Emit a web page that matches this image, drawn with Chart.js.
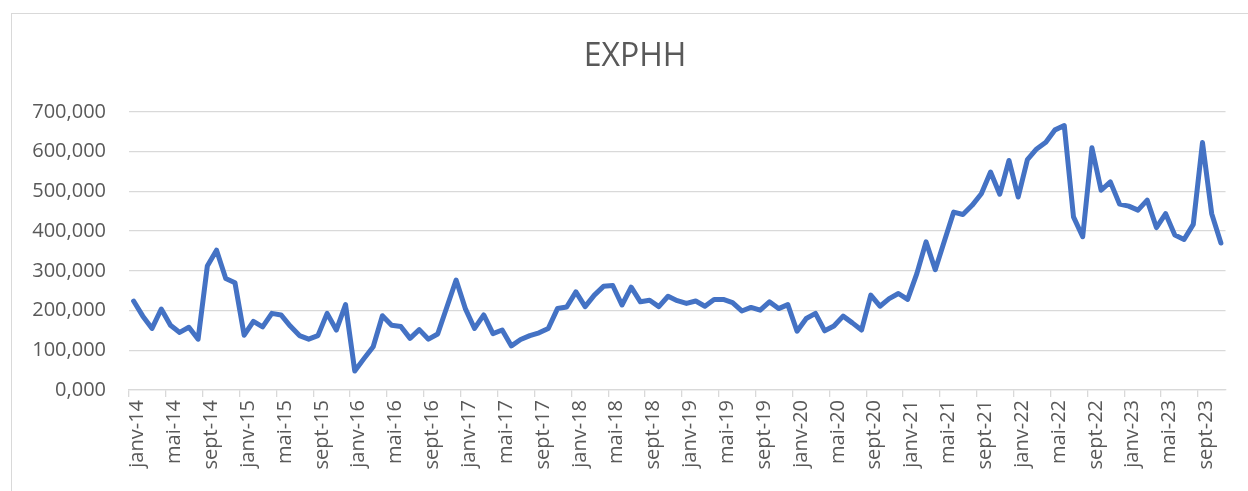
<!DOCTYPE html>
<html>
<head>
<meta charset="utf-8">
<script src="https://cdn.jsdelivr.net/npm/chart.js@4.4.1/dist/chart.umd.min.js"></script>
<style>
  html, body { margin: 0; padding: 0; background: #ffffff; }
  #wrap { position: relative; width: 1248px; height: 491px; overflow: hidden; }
  #frame { position: absolute; left: 11px; top: 13px; width: 1400px; height: 700px; border-left: 1px solid #d9d9d9; border-top: 1px solid #d9d9d9; }
  canvas { position: absolute; left: 0; top: 0; }
</style>
</head>
<body>
<div id="wrap">
  <div id="frame"></div>
  <canvas id="c" width="1248" height="491"></canvas>
</div>
<script>
// Month names (French abbreviations) and years used to build the category labels
const monthNames = ['janv', 'févr', 'mars', 'avr', 'mai', 'juin', 'juil', 'août', 'sept', 'oct', 'nov', 'déc'];
const years = ['14', '15', '16', '17', '18', '19', '20', '21', '22', '23'];
const lastMonthCount = 119; // janv-14 .. nov-23

const categories = [];
for (const y of years) {
  for (const m of monthNames) {
    if (categories.length < lastMonthCount) categories.push(m + '-' + y);
  }
}

// EXPHH monthly values
const values = [
  224, 186, 155, 204, 163, 145, 158, 128, 312, 352, 281, 270,
  138, 173, 159, 193, 189, 161, 137, 128, 137, 193, 151, 215,
  48, 79, 109, 187, 163, 160, 130, 152, 128, 141, 209, 277,
  205, 155, 189, 142, 151, 111, 127, 137, 144, 155, 205, 209,
  247, 210, 239, 261, 263, 214, 259, 222, 226, 210, 236, 225,
  218, 224, 211, 228, 228, 220, 199, 208, 201, 222, 205, 215,
  148, 180, 193, 149, 161, 186, 169, 151, 239, 211, 230, 243,
  228, 293, 373, 303, 376, 448, 442, 465, 494, 549, 493, 578,
  486, 580, 607, 624, 655, 666, 436, 386, 610, 503, 524, 468,
  463, 453, 478, 409, 444, 390, 379, 417, 623, 444, 370
];

// Y axis tick values
const yTicks = [0, 100, 200, 300, 400, 500, 600, 700];

const FONT = "'Open Sans', 'Liberation Sans', sans-serif";
const TXT = '#595959';
const GRID = '#d9d9d9';

// Centre the title over the framed chart (as in the reference) rather than the whole canvas
const titleShift = {
  id: 'titleShift',
  afterLayout(chart) {
    const t = chart.titleBlock;
    if (t) { t.left = 43; t.width = t.right - t.left; }
  }
};

new Chart(document.getElementById('c'), {
  type: 'line',
  data: {
    labels: categories,
    datasets: [{
      label: 'EXPHH',
      data: values,
      borderColor: '#4472C4',
      backgroundColor: '#4472C4',
      borderWidth: 5,
      pointRadius: 0,
      tension: 0,
      borderJoinStyle: 'round',
      borderCapStyle: 'round',
      fill: false
    }]
  },
  plugins: [titleShift],
  options: {
    responsive: false,
    animation: false,
    layout: { padding: { left: 0, right: 21, top: 0, bottom: 0 } },
    plugins: {
      legend: { display: false },
      tooltip: { enabled: false },
      title: {
        display: true,
        text: 'EXPHH',
        color: TXT,
        font: { family: FONT, size: 32, weight: 'normal' },
        padding: { top: 38, bottom: 35.6 }
      }
    },
    scales: {
      x: {
        offset: true,
        grid: {
          offset: true,
          drawOnChartArea: false,
          drawTicks: true,
          tickLength: 7,
          lineWidth: 1.3,
          color: (ctx) => (ctx.index !== undefined && ctx.index % 4 === 0) ? GRID : 'rgba(0,0,0,0)',
          tickColor: (ctx) => (ctx.index !== undefined && ctx.index % 4 === 0) ? GRID : 'rgba(0,0,0,0)'
        },
        border: { display: true, color: GRID, width: 1.3 },
        ticks: {
          autoSkip: false,
          minRotation: 90,
          maxRotation: 90,
          padding: 3,
          labelOffset: 4,
          color: TXT,
          font: { family: FONT, size: 20 },
          callback: (v, i) => (i % 4 === 0 ? categories[i] : '')
        },
        afterFit: (s) => { s.height = 101; }
      },
      y: {
        min: yTicks[0],
        max: yTicks[yTicks.length - 1],
        afterBuildTicks: (s) => { s.ticks = yTicks.map(v => ({ value: v })); },
        ticks: {
          padding: 23,
          color: TXT,
          font: { family: FONT, size: 20 },
          callback: (v) => Number(v).toFixed(3).replace('.', ',')
        },
        grid: { color: GRID, lineWidth: 1.3, drawTicks: false },
        border: { display: false },
        afterFit: (s) => { s.width = 129; }
      }
    }
  }
});
</script>
</body>
</html>
